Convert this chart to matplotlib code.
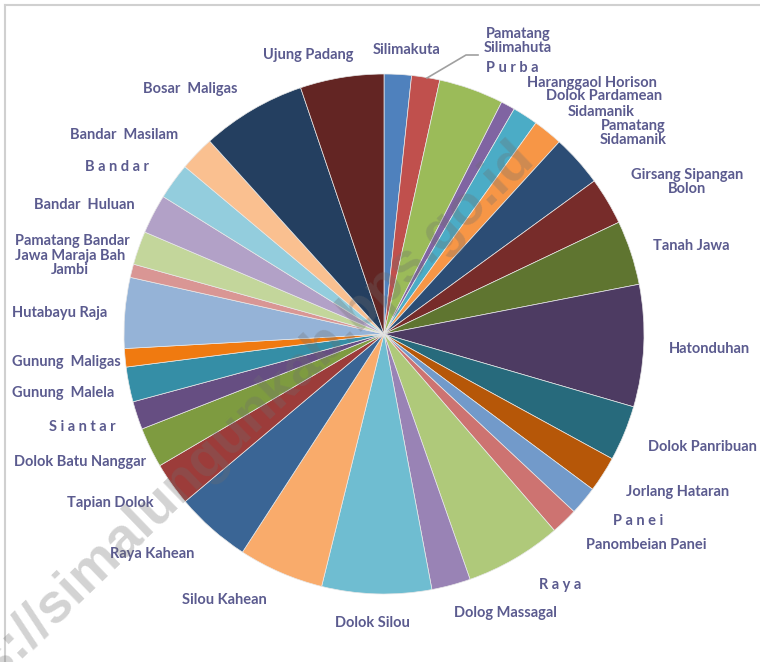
import numpy as np
import matplotlib.pyplot as plt
from matplotlib.lines import Line2D

# Luas kecamatan (perkiraan, dibaca dari sudut irisan)
kecamatan = ['Silimakuta', 'Pamatang\nSilimahuta', 'P u r b a', 'Haranggaol Horison',
             'Dolok Pardamean', 'Sidamanik', 'Pamatang\nSidamanik', 'Girsang Sipangan\nBolon',
             'Tanah Jawa', 'Hatonduhan', 'Dolok Panribuan', 'Jorlang Hataran',
             'P a n e i', 'Panombeian Panei', 'R a y a', 'Dolog Massagal',
             'Dolok Silou', 'Silou Kahean', 'Raya Kahean', 'Tapian Dolok',
             'Dolok Batu Nanggar', 'S i a n t a r', 'Gunung  Malela', 'Gunung  Maligas',
             'Hutabayu Raja', 'Jawa Maraja Bah\nJambi', 'Pamatang Bandar', 'Bandar  Huluan',
             'B a n d a r', 'Bandar  Masilam', 'Bosar  Maligas', 'Ujung Padang']
luas = [74.3, 76.7, 176.6, 38.4, 69.4, 80.4, 141.3, 129.1,
        175.4, 332.5, 151.0, 97.4, 78.0, 73.0, 263.1, 106.0,
        298.4, 232.6, 205.8, 118.1, 109.6, 76.7, 95.0, 50.0,
        192.4, 36.5, 91.3, 107.2, 99.3, 95.6, 285.0, 227.8]

warna = ['#4F81BD', '#C0504D', '#9BBB59', '#8064A2', '#4BACC6', '#F79646',
         '#2C4D75', '#772C2A', '#5F7530', '#4D3B62', '#276A7C', '#B65708',
         '#729ACA', '#CD7371', '#AFC97A', '#9983B5', '#6FBDD1', '#F9AB6B',
         '#3A6595', '#9C3C3A', '#7E9B40', '#664E82', '#358EA6', '#F07A10',
         '#95B3D7', '#D99694', '#C3D69B', '#B2A1C7', '#93CDDD', '#FAC090',
         '#243F60', '#632523']

# posisi label (piksel gambar, y dari atas)
label_xy = [(407, 50), (518, 41), (512, 68), (592, 83),
            (604, 96), (601, 112), (633, 133), (687, 182),
            (691, 246), (709, 349), (702, 447), (678, 492),
            (638, 521), (646, 545), (560, 585), (505, 613),
            (372, 623), (224, 600), (152, 554), (110, 503),
            (80, 462), (82, 427), (63, 393), (66, 362),
            (60, 313), (70, 263), (72, 241), (84, 205),
            (117, 167), (124, 135), (190, 89), (308, 55)]

W, H = 760, 662
fig = plt.figure(figsize=(W / 100, H / 100), dpi=100)
ax = fig.add_axes([0, 0, 1, 1])

ax.pie(luas, colors=warna, startangle=90, counterclock=False,
       center=(384, H - 334), radius=260, frame=True,
       wedgeprops=dict(edgecolor='#e8e8e8', linewidth=0.5))
ax.set_xlim(0, W)
ax.set_ylim(0, H)
ax.set_aspect('equal')
ax.axis('off')

warna_teks = '#5b5b8f'
for nama, (x, y) in zip(kecamatan, label_xy):
    ax.text(x, H - y, nama, ha='center', va='center', color=warna_teks,
            fontsize=10.5, fontweight='bold', family=['Lato', 'DejaVu Sans'],
            linespacing=1.05)

# garis penunjuk Pamatang Silimahuta
ax.plot([427, 466, 478], [H - 78, H - 55, H - 55], color='#a0a0a0', lw=1.2)

# watermark
fig.text(526 / W, 1 - 150 / H, 'https://simalungunkab.bps.go.id', rotation=44,
         rotation_mode='anchor', ha='right', va='center', fontsize=40,
         fontweight='bold', color='#6e6e6e', alpha=0.3,
         family='Liberation Sans')

# bingkai
fig.add_artist(Line2D([5 / W, 5 / W], [0, 1 - 5 / H], color='#d0d0d0', lw=1.5))
fig.add_artist(Line2D([5 / W, 1], [1 - 5 / H, 1 - 5 / H], color='#d0d0d0', lw=1.5))

fig.savefig('out.png', dpi=100)
